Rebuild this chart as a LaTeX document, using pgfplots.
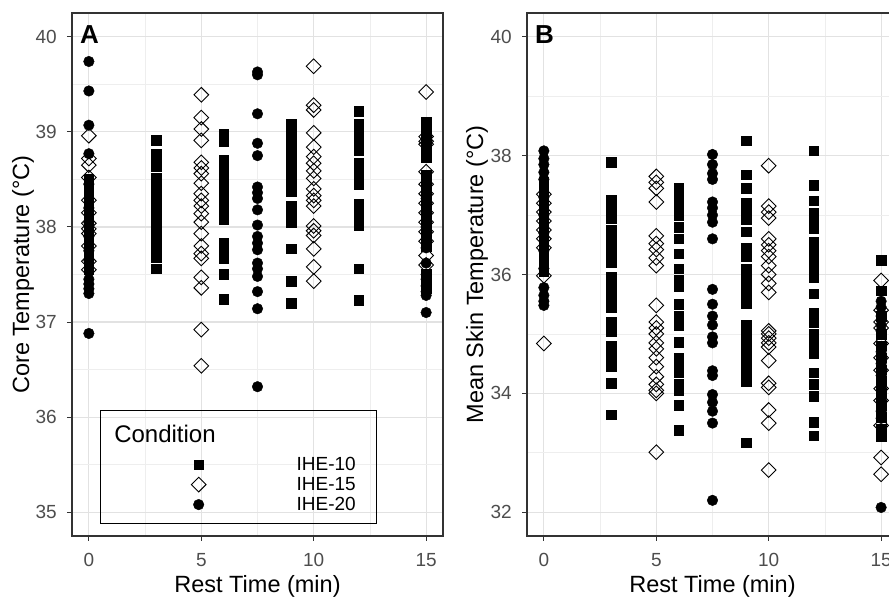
\documentclass[border=0pt]{standalone}
\usepackage{fontspec}
\setmainfont{Liberation Sans}
\usepackage{pgfplots}
\pgfplotsset{compat=1.18}

\definecolor{tickgray}{HTML}{4D4D4D}
\definecolor{framegray}{HTML}{333333}
\definecolor{gridmajor}{HTML}{E2E2E2}
\definecolor{gridminor}{HTML}{EEEEEE}

\tikzset{
  tag/.style={anchor=base west, inner sep=0pt, xshift=8pt, yshift=-30.5pt,
    font=\fontsize{26}{26}\selectfont\bfseries},
}

\newcommand{\titlefont}{\fontsize{23.5}{24}\selectfont}

\pgfplotsset{
  panel/.style={
    scale only axis, width=371pt, height=523pt,
    xmin=-0.75, xmax=15.75,
    xtick={0,5,10,15}, minor x tick num=1, minor y tick num=1,
    grid=both,
    major grid style={gridmajor, line width=1.1pt},
    minor grid style={gridminor, line width=0.6pt},
    axis line style={framegray, line width=1.6pt},
    tick style={framegray, line width=1pt},
    major tick length=5pt, minor tick length=0pt,
    tick align=outside, tick pos=left,
    /pgf/number format/assume math mode=true,
    tick label style={font=\fontsize{19}{19}\selectfont, text=tickgray},
    xticklabel style={anchor=base, yshift=-26pt},
    yticklabel style={anchor=east, inner xsep=0pt, xshift=-10pt},
    every axis x label/.style={at={([yshift=-57pt]rel axis cs:0.5,0)}, anchor=base,
      font=\titlefont, text=black},
    xlabel={Rest Time (min)},
  },
  ihe10/.style={only marks, mark=square*, mark size=4.8pt, line width=0.4pt,
    mark options={fill=black, draw=black}},
  ihe15/.style={only marks, mark=square, mark size=5.2pt, line width=0.9pt,
    mark options={rotate=45, draw=black, fill=none}},
  ihe20/.style={only marks, mark=*, mark size=5.3pt, line width=0.4pt,
    mark options={fill=black, draw=black}},
  keymark/.style={legend image code/.code={%
    \path[draw=none] (0pt,-10pt) rectangle (150pt,10pt);
    \draw[##1] plot coordinates {(98pt,0pt)};}},
  keymarklast/.style={legend image code/.code={%
    \path[draw=none] (0pt,-19pt) rectangle (150pt,10pt);
    \draw[##1] plot coordinates {(98pt,0pt)};}},
}

\newcommand{\keylabel}[1]{\makebox[126pt][l]{\hspace*{46pt}#1}}

\begin{document}
\begin{tikzpicture}

% ---------------- Panel A: core temperature ----------------
\begin{axis}[panel, at={(72pt,63pt)}, anchor=south west,
  ymin=34.75, ymax=40.25, ytick={35,36,37,38,39,40},
  every axis y label/.style={at={([xshift=-49pt]rel axis cs:0,0.5)}, rotate=90,
    anchor=center, font=\titlefont, text=black},
  ylabel={Core Temperature (°C)},
  legend cell align=left,
  legend style={at={(rel axis cs:0.0755,0.241)}, anchor=north west,
    draw=black, line width=1.3pt, fill=none, inner sep=0pt,
    row sep=0pt, column sep=0pt, font=\fontsize{19}{19}\selectfont,
    nodes={inner sep=0pt, draw=none}},
]
\addlegendimage{legend image code/.code={%
  \path[draw=none] (0pt,-20pt) rectangle (150pt,24pt);
  \node[draw=none, anchor=west, inner sep=0pt, font=\fontsize{24}{24}\selectfont] at (13pt,0pt) {Condition};}}
\addlegendentry{\phantom{I}}

\addplot[ihe10, keymark] coordinates {
 (0,37.55) (0,37.62) (0,37.70) (0,37.76) (0,37.82) (0,37.88) (0,37.93) (0,37.98) (0,38.02)
 (0,38.07) (0,38.12) (0,38.17) (0,38.22) (0,38.28) (0,38.33) (0,38.38) (0,38.44) (0,38.50)
 (3,38.91) (3,38.77) (3,38.70) (3,38.64) (3,38.52) (3,38.46) (3,38.40) (3,38.35) (3,38.24)
 (3,38.18) (3,38.12) (3,38.06) (3,38.00) (3,37.94) (3,37.88) (3,37.82) (3,37.76) (3,37.70)
 (3,37.68) (3,37.56)
 (6,38.98) (6,38.90) (6,38.70) (6,38.62) (6,38.55) (6,38.47) (6,38.40) (6,38.33) (6,38.28)
 (6,38.19) (6,38.12) (6,38.08) (6,37.83) (6,37.75) (6,37.67) (6,37.50) (6,37.24)
 (9,39.08) (9,39.02) (9,38.90) (9,38.84) (9,38.78) (9,38.70) (9,38.63) (9,38.56) (9,38.48)
 (9,38.42) (9,38.37) (9,38.22) (9,38.13) (9,38.05) (9,37.77) (9,37.43) (9,37.20)
 (12,39.22) (12,39.08) (12,39.00) (12,38.92) (12,38.85) (12,38.80) (12,38.67) (12,38.60)
 (12,38.52) (12,38.45) (12,38.24) (12,38.15) (12,38.08) (12,38.02) (12,37.56) (12,37.23)
 (15,39.10) (15,39.02) (15,38.95) (15,38.87) (15,38.80) (15,38.73) (15,38.55) (15,38.48)
 (15,38.40) (15,38.30) (15,38.22) (15,38.15) (15,38.08) (15,38.00) (15,37.90) (15,37.80)
 (15,37.50) (15,37.42) (15,37.35)
};
\addlegendentry{\keylabel{IHE-10}}

\addplot[ihe15, keymark] coordinates {
 (0,38.96) (0,38.72) (0,38.65) (0,38.52) (0,38.28) (0,38.15) (0,38.04) (0,37.98) (0,37.93)
 (0,37.80) (0,37.64) (0,37.55)
 (5,39.39) (5,39.15) (5,39.03) (5,38.91) (5,38.68) (5,38.62) (5,38.56) (5,38.46) (5,38.35)
 (5,38.28) (5,38.22) (5,38.14) (5,38.05) (5,37.93) (5,37.80) (5,37.72) (5,37.67) (5,37.47)
 (5,37.36) (5,36.92) (5,36.54)
 (10,39.69) (10,39.28) (10,39.23) (10,38.99) (10,38.84) (10,38.74) (10,38.67) (10,38.59)
 (10,38.51) (10,38.40) (10,38.33) (10,38.28) (10,38.22) (10,38.01) (10,37.96) (10,37.91)
 (10,37.77) (10,37.58) (10,37.43)
 (15,39.42) (15,38.95) (15,38.90) (15,38.87) (15,38.58) (15,38.45) (15,38.35) (15,38.25)
 (15,38.15) (15,38.05) (15,37.95) (15,37.85) (15,37.70) (15,37.60)
};
\addlegendentry{\keylabel{IHE-15}}

\addplot[ihe20, keymarklast] coordinates {
 (0,39.74) (0,39.43) (0,39.07) (0,38.77) (0,38.45) (0,38.20) (0,38.05) (0,37.90) (0,37.75)
 (0,37.65) (0,37.45) (0,37.40) (0,37.35) (0,37.30) (0,36.88)
 (7.5,39.63) (7.5,39.60) (7.5,39.19) (7.5,38.88) (7.5,38.75) (7.5,38.42) (7.5,38.36)
 (7.5,38.30) (7.5,38.18) (7.5,38.02) (7.5,37.90) (7.5,37.83) (7.5,37.76) (7.5,37.62)
 (7.5,37.56) (7.5,37.48) (7.5,37.32) (7.5,37.14) (7.5,36.32)
 (15,38.30) (15,38.15) (15,38.00) (15,37.93) (15,37.87) (15,37.78) (15,37.62) (15,37.50)
 (15,37.45) (15,37.38) (15,37.32) (15,37.28) (15,37.10)
};
\addlegendentry{\keylabel{IHE-20}}

\node[tag] at (rel axis cs:0,1) {A};
\end{axis}

% ---------------- Panel B: mean skin temperature ----------------
\begin{axis}[panel, at={(527pt,63pt)}, anchor=south west,
  ymin=31.6, ymax=40.4, ytick={32,34,36,38,40},
  every axis y label/.style={at={([xshift=-50pt]rel axis cs:0,0.5)}, rotate=90,
    anchor=center, font=\titlefont, text=black},
  ylabel={Mean Skin Temperature (°C)},
]
\addplot[ihe10] coordinates {
 (0,37.55) (0,37.45) (0,37.35) (0,37.25) (0,37.15) (0,37.05) (0,36.95) (0,36.85) (0,36.75)
 (0,36.65) (0,36.55) (0,36.45) (0,36.35) (0,36.25) (0,36.15) (0,36.05)
 (3,37.89) (3,37.25) (3,37.10) (3,36.95) (3,36.75) (3,36.60) (3,36.45) (3,36.30) (3,36.20)
 (3,35.95) (3,35.85) (3,35.72) (3,35.62) (3,35.45) (3,35.20) (3,35.05) (3,34.80) (3,34.65)
 (3,34.50) (3,34.45) (3,34.17) (3,33.64)
 (6,37.45) (6,37.30) (6,37.15) (6,37.00) (6,36.80) (6,36.60) (6,36.35) (6,36.10) (6,35.90)
 (6,35.80) (6,35.50) (6,35.30) (6,35.15) (6,34.86) (6,34.60) (6,34.45) (6,34.35) (6,34.15)
 (6,34.05) (6,33.80) (6,33.38)
 (9,38.25) (9,37.68) (9,37.45) (9,37.20) (9,37.05) (9,36.92) (9,36.72) (9,36.45) (9,36.30)
 (9,36.10) (9,35.95) (9,35.80) (9,35.65) (9,35.52) (9,35.15) (9,35.00) (9,34.90) (9,34.75)
 (9,34.60) (9,34.45) (9,34.30) (9,34.20) (9,33.17)
 (12,38.08) (12,37.50) (12,37.24) (12,37.04) (12,36.90) (12,36.78) (12,36.55) (12,36.38)
 (12,36.25) (12,36.10) (12,35.95) (12,35.68) (12,35.35) (12,35.20) (12,35.00) (12,34.85)
 (12,34.68) (12,34.35) (12,34.15) (12,33.95) (12,33.51) (12,33.29)
 (15,36.24) (15,35.73) (15,35.30) (15,35.00) (15,34.80) (15,34.60) (15,34.40) (15,34.20)
 (15,34.00) (15,33.80) (15,33.60) (15,33.40) (15,33.28)
};
\addplot[ihe15] coordinates {
 (0,37.35) (0,37.20) (0,37.05) (0,36.90) (0,36.75) (0,36.60) (0,36.45) (0,35.98) (0,34.84)
 (5,37.65) (5,37.55) (5,37.45) (5,37.22) (5,36.65) (5,36.52) (5,36.42) (5,36.28) (5,36.15)
 (5,35.48) (5,35.20) (5,35.10) (5,35.00) (5,34.85) (5,34.75) (5,34.60) (5,34.45) (5,34.28)
 (5,34.15) (5,34.05) (5,34.00) (5,33.01)
 (10,37.83) (10,37.15) (10,37.05) (10,36.95) (10,36.60) (10,36.50) (10,36.40) (10,36.30)
 (10,36.15) (10,36.00) (10,35.85) (10,35.70) (10,35.05) (10,35.00) (10,34.93) (10,34.85)
 (10,34.78) (10,34.55) (10,34.17) (10,34.10) (10,33.72) (10,33.50) (10,32.71)
 (15,35.90) (15,35.40) (15,35.20) (15,35.10) (15,34.84) (15,34.60) (15,34.39) (15,34.08)
 (15,33.88) (15,33.46) (15,32.92) (15,32.64)
};
\addplot[ihe20] coordinates {
 (0,38.08) (0,37.95) (0,37.85) (0,37.72) (0,37.60) (0,37.30) (0,37.00) (0,36.70) (0,36.40)
 (0,36.10) (0,35.78) (0,35.65) (0,35.55) (0,35.48)
 (7.5,38.02) (7.5,37.85) (7.5,37.70) (7.5,37.60) (7.5,37.22) (7.5,37.12) (7.5,37.00)
 (7.5,36.88) (7.5,36.60) (7.5,35.75) (7.5,35.50) (7.5,35.30) (7.5,35.15) (7.5,34.95)
 (7.5,34.85) (7.5,34.38) (7.5,34.30) (7.5,33.98) (7.5,33.85) (7.5,33.70) (7.5,33.50) (7.5,32.20)
 (15,35.55) (15,35.45) (15,35.30) (15,35.15) (15,35.05) (15,34.70) (15,34.50) (15,34.30)
 (15,34.10) (15,33.90) (15,33.70) (15,33.58) (15,32.08)
};
\node[tag] at (rel axis cs:0,1) {B};
\end{axis}

\pgfresetboundingbox
\path[use as bounding box] (0pt,0pt) rectangle (889pt,599pt);
\end{tikzpicture}
\end{document}
